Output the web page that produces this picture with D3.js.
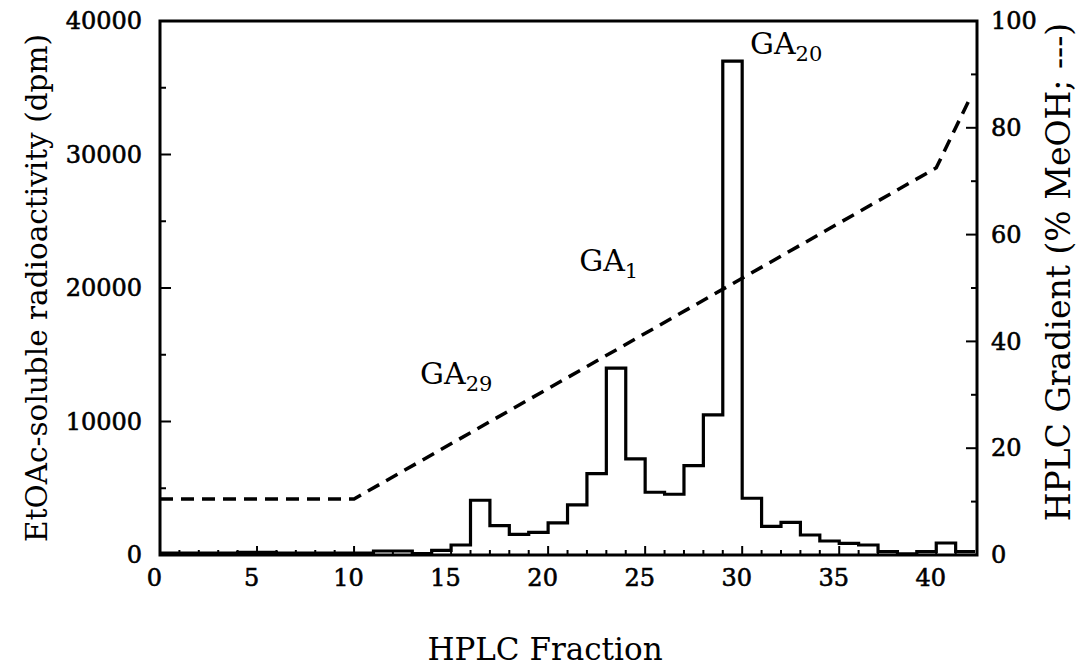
<html>
<head>
<script src="https://cdn.jsdelivr.net/npm/d3@7"></script>
<style>
  body { margin: 0; background: #fff; }
  text { font-family: "DejaVu Serif", "Liberation Serif", serif; fill: #000; }
</style>
</head>
<body>
<script>
// HPLC fraction (start of each 1-fraction bin) and radioactivity in it
var fractions = d3.range(0, 42);
var dpm = [150, 150, 150, 150, 200, 200, 150, 150, 150, 150,
           150, 300, 300, 100, 350, 750, 4100, 2200, 1550, 1700,
           2400, 3750, 6100, 14000, 7200, 4700, 4550, 6700, 10500, 37000,
           4250, 2150, 2450, 1500, 1050, 870, 750, 250, 80, 250,
           900, 250];

// methanol gradient (dashed line)
var gradFraction = [0, 10, 40, 41.8];
var gradMeOH = [10.5, 10.5, 72.5, 86];

var xTicks = [0, 5, 10, 15, 20, 25, 30, 35, 40];
var leftTicks = [0, 10000, 20000, 30000, 40000];
var rightTicks = [0, 20, 40, 60, 80, 100];

var peaks = [
    {name: "GA", sub: "29", frac: 13.4, dpm: 12800},
    {name: "GA", sub: "1", frac: 21.6, dpm: 21300},
    {name: "GA", sub: "20", frac: 30.4, dpm: 37500}
];

var width = 1079, height = 672;
var margin = {top: 21, right: 102, bottom: 117, left: 160};

var svg = d3.select("body").append("svg")
    .attr("width", width)
    .attr("height", height);

svg.append("rect").attr("width", width).attr("height", height).attr("fill", "#fff");

var xscale = d3.scaleLinear().domain([0, 42.1]).range([margin.left, width - margin.right]);
var yscale = d3.scaleLinear().domain([0, 40000]).range([height - margin.bottom, margin.top]);
var y2scale = d3.scaleLinear().domain([0, 100]).range([height - margin.bottom, margin.top]);

var x0 = xscale.range()[0], x1 = xscale.range()[1];
var yb = yscale.range()[0], yt = yscale.range()[1];

// minor ticks
var g = svg.append("g").attr("stroke", "#000").attr("stroke-width", 2);
g.selectAll(".xm").data(d3.range(1, 42)).enter().append("line")
    .attr("x1", d => xscale(d)).attr("x2", d => xscale(d))
    .attr("y1", yb).attr("y2", d => yb - (d % 5 === 0 ? 9 : 5));
g.selectAll(".ym").data(d3.range(5000, 40000, 5000)).enter().append("line")
    .attr("x1", x0).attr("x2", d => x0 + (d % 10000 === 0 ? 11 : 6))
    .attr("y1", d => yscale(d)).attr("y2", d => yscale(d));
g.selectAll(".y2m").data(d3.range(10, 100, 10)).enter().append("line")
    .attr("x1", x1).attr("x2", d => x1 - (d % 20 === 0 ? 11 : 6))
    .attr("y1", d => y2scale(d)).attr("y2", d => y2scale(d));

// axes (labels only; tick marks drawn above)
var x_axis = d3.axisBottom(xscale).tickValues(xTicks).tickSize(0).tickPadding(14);
svg.append("g").attr("transform", "translate(0," + yb + ")").call(x_axis)
    .call(a => a.select(".domain").remove())
    .selectAll("text").attr("font-size", 24).attr("dx", -6);

var y_axis = d3.axisLeft(yscale).tickValues(leftTicks).tickSize(0).tickPadding(18).tickFormat(d3.format("d"));
svg.append("g").attr("transform", "translate(" + x0 + ",0)").call(y_axis)
    .call(a => a.select(".domain").remove())
    .selectAll("text").attr("font-size", 24);

var y2_axis = d3.axisRight(y2scale).tickValues(rightTicks).tickSize(0).tickPadding(14);
svg.append("g").attr("transform", "translate(" + x1 + ",0)").call(y2_axis)
    .call(a => a.select(".domain").remove())
    .selectAll("text").attr("font-size", 24);

svg.selectAll(".tick text").attr("font-family", "DejaVu Serif").attr("fill", "#000")
    .attr("stroke", "#000").attr("stroke-width", 0.6);

// frame
svg.append("rect")
    .attr("x", x0).attr("y", yt)
    .attr("width", x1 - x0).attr("height", yb - yt)
    .attr("fill", "none").attr("stroke", "#000").attr("stroke-width", 3);

// histogram
var steps = fractions.map((f, i) => [f, dpm[i]]);
steps.push([42, dpm[dpm.length - 1]]);
var step = d3.line()
    .x(d => xscale(d[0]))
    .y(d => yscale(d[1]))
    .curve(d3.curveStepAfter);
svg.append("path")
    .datum(steps)
    .attr("d", step)
    .attr("fill", "none").attr("stroke", "#000").attr("stroke-width", 3.2);

// gradient
var line = d3.line()
    .x((d, i) => xscale(gradFraction[i]))
    .y(d => y2scale(d));
svg.append("path")
    .datum(gradMeOH)
    .attr("d", line)
    .attr("fill", "none").attr("stroke", "#000").attr("stroke-width", 3.5)
    .attr("stroke-dasharray", "13,8");

// peak labels
peaks.forEach(function (p) {
    var t = svg.append("text")
        .attr("x", xscale(p.frac)).attr("y", yscale(p.dpm))
        .attr("font-size", 30);
    t.append("tspan").text(p.name);
    t.append("tspan").attr("font-size", 21).attr("dy", 7).text(p.sub);
});

// axis titles
svg.append("text")
    .attr("x", 545).attr("y", 660)
    .attr("text-anchor", "middle").attr("font-size", 31)
    .text("HPLC Fraction");

svg.append("text")
    .attr("transform", "translate(47," + ((yb + yt) / 2) + ") rotate(-90)")
    .attr("text-anchor", "middle").attr("font-size", 29.5)
    .text("EtOAc-soluble radioactivity (dpm)");

svg.append("text")
    .attr("transform", "translate(1070," + 272 + ") rotate(-90)")
    .attr("text-anchor", "middle").attr("font-size", 33)
    .text("HPLC Gradient (% MeOH; ---)");
</script>
</body>
</html>
